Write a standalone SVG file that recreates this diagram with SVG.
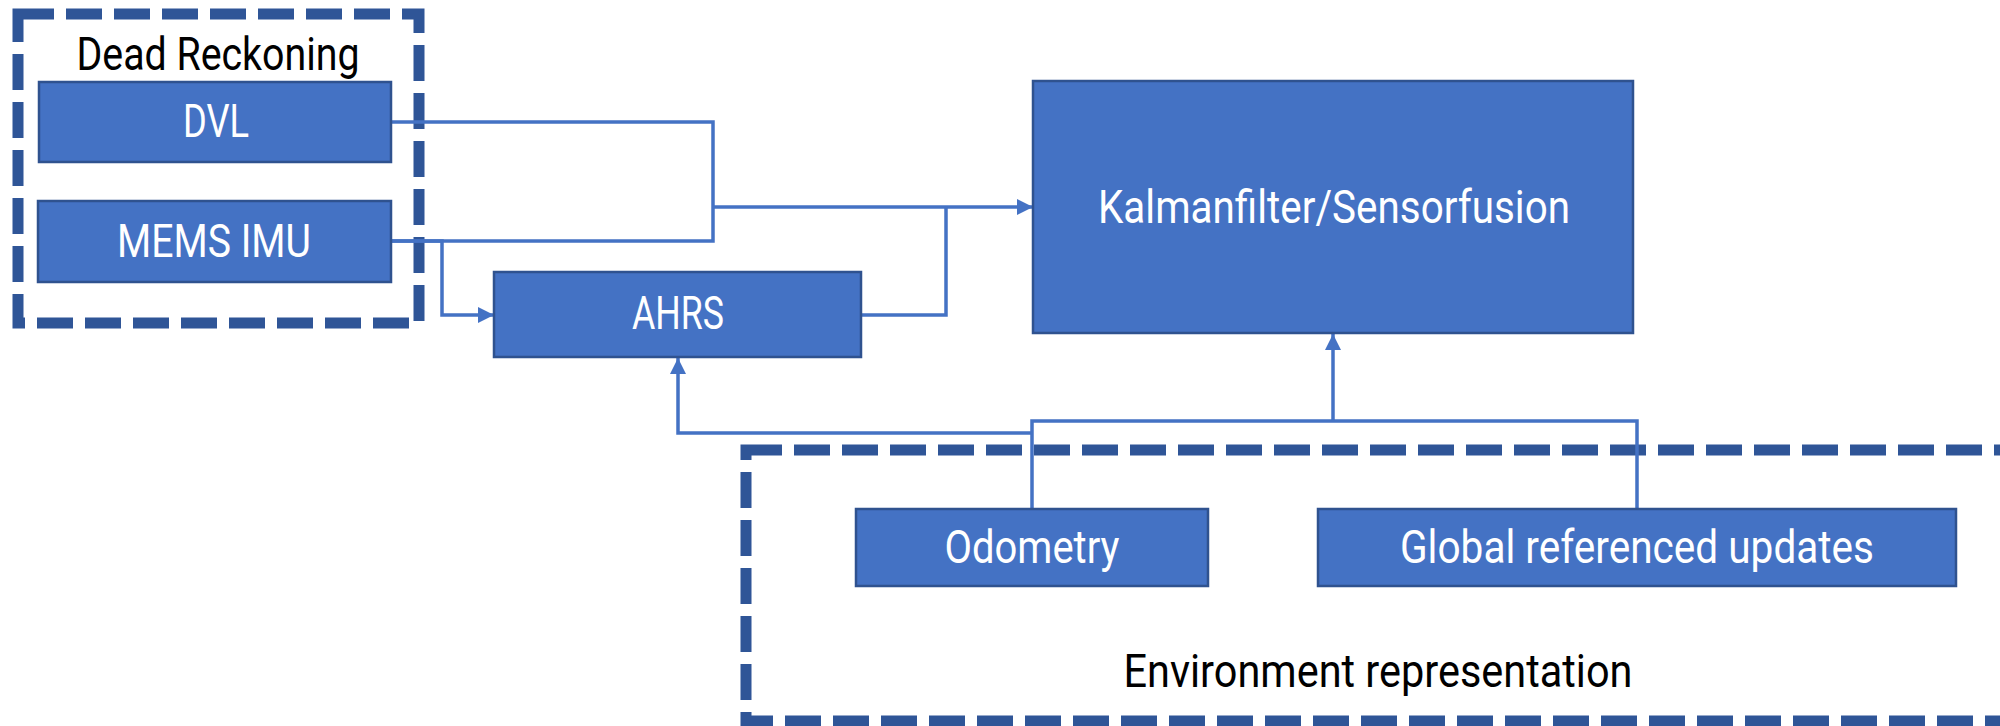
<svg xmlns="http://www.w3.org/2000/svg" width="2000" height="726" viewBox="0 0 2000 726">
<defs>
<marker id="arr" viewBox="0 0 16 16" refX="16" refY="8" markerWidth="16" markerHeight="16" markerUnits="userSpaceOnUse" orient="auto">
<path d="M0,0 L16,8 L0,16 Z" fill="#4472C4"/>
</marker>
</defs>
<style>
.node{fill:#4472C4;stroke:#2F528F;stroke-width:2.5}
.grp{fill:none;stroke:#2F5597;stroke-width:11;stroke-dasharray:36 12}
.lbl{font-family:Roboto,"Noto Sans","Liberation Sans",sans-serif;font-size:46px;fill:#FFFFFF;text-anchor:middle}
.glbl{font-family:Roboto,"Noto Sans","Liberation Sans",sans-serif;font-size:47px;fill:#000000;text-anchor:middle}
.con{fill:none;stroke:#4472C4;stroke-width:3.5}
</style>
<rect width="2000" height="726" fill="#FFFFFF"/>
<g id="dead-reckoning">
<rect class="grp" x="18" y="14" width="401" height="309"/>
<text class="glbl" x="218" y="70" textLength="283" lengthAdjust="spacingAndGlyphs">Dead Reckoning</text>
</g>
<g id="environment">
<rect class="grp" x="746" y="450" width="1270" height="271"/>
<text class="glbl" x="1378" y="687" textLength="509" lengthAdjust="spacingAndGlyphs">Environment representation</text>
</g>
<g id="connectors">
<polyline class="con" points="391,122 713,122 713,241 390,241"/>
<polyline class="con" points="713,207 1033,207" marker-end="url(#arr)"/>
<polyline class="con" points="861,315 946,315 946,207"/>
<polyline class="con" points="390,241 442,241 442,315 494,315" marker-end="url(#arr)"/>
<polyline class="con" points="1032,509 1032,421 1637,421 1637,509"/>
<polyline class="con" points="1333,421 1333,334" marker-end="url(#arr)"/>
<polyline class="con" points="1032,433 678,433 678,358" marker-end="url(#arr)"/>
</g>
<g id="dvl">
<rect class="node" x="39" y="82" width="352" height="80"/>
<text class="lbl" x="216" y="137" textLength="66" lengthAdjust="spacingAndGlyphs">DVL</text>
</g>
<g id="mems-imu">
<rect class="node" x="38" y="201" width="353" height="81"/>
<text class="lbl" x="214" y="257" textLength="194" lengthAdjust="spacingAndGlyphs">MEMS IMU</text>
</g>
<g id="ahrs">
<rect class="node" x="494" y="272" width="367" height="85"/>
<text class="lbl" x="678" y="329" textLength="92" lengthAdjust="spacingAndGlyphs">AHRS</text>
</g>
<g id="kalman">
<rect class="node" x="1033" y="81" width="600" height="252"/>
<text class="lbl" x="1334" y="223" font-size="50" textLength="472" lengthAdjust="spacingAndGlyphs">Kalmanfilter/Sensorfusion</text>
</g>
<g id="odometry">
<rect class="node" x="856" y="509" width="352" height="77"/>
<text class="lbl" x="1032" y="563" textLength="175" lengthAdjust="spacingAndGlyphs">Odometry</text>
</g>
<g id="global-updates">
<rect class="node" x="1318" y="509" width="638" height="77"/>
<text class="lbl" x="1637" y="563" textLength="474" lengthAdjust="spacingAndGlyphs">Global referenced updates</text>
</g>
</svg>
